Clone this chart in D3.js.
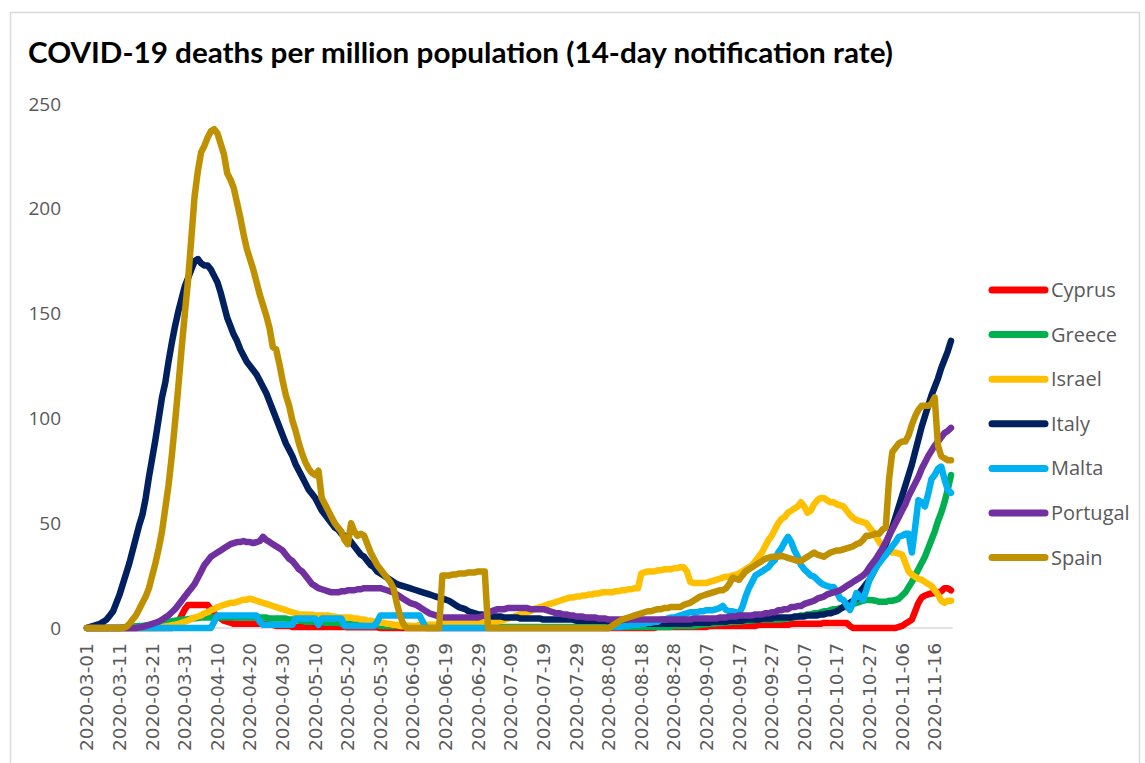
<!DOCTYPE html>
<html>
<head>
<meta charset="utf-8">
<script src="https://cdn.jsdelivr.net/npm/d3@7"></script>
<style>
    body { margin: 0; background: #fff; }
    svg { display: block; }
</style>
</head>
<body>
<svg id="chart" width="1145" height="763"></svg>
<script>
// COVID-19 deaths per million (14-day rate), daily from 2020-03-01 to 2020-11-21

const firstDay = "2020-03-01";
const lastDay = "2020-11-21";

const tickLabels = [
    "2020-03-01", "2020-03-11", "2020-03-21", "2020-03-31", "2020-04-10", "2020-04-20",
    "2020-04-30", "2020-05-10", "2020-05-20", "2020-05-30", "2020-06-09", "2020-06-19",
    "2020-06-29", "2020-07-09", "2020-07-19", "2020-07-29", "2020-08-08", "2020-08-18",
    "2020-08-28", "2020-09-07", "2020-09-17", "2020-09-27", "2020-10-07", "2020-10-17",
    "2020-10-27", "2020-11-06", "2020-11-16"
];
const yTicks = [0, 50, 100, 150, 200, 250];

const countries = ["Cyprus", "Greece", "Israel", "Italy", "Malta", "Portugal", "Spain"];
const colors = ["#ff0000", "#00b050", "#ffc000", "#002060", "#00b0f0", "#7030a0", "#bf9000"];

// one row = 10 days
const cyprus = [
    0,0,0,0,0,0,0,0,0,0,
    0,0,0,0,0,0,0,0,0,0,
    0,0,0,0,0,0,0,1,3,6,
    9,11,11,11,11,11,11,11,9,7,
    5.5,4.5,3.5,3,2.5,2,2,2,2,2,
    2,2,2,2,2,2,1.5,1.5,1,1,
    1,1,1,0.5,0.5,0.5,0.5,0.5,0.5,0.5,
    0.5,0.5,0.5,0.5,0.5,0.5,0.5,0.5,0.5,0.5,
    0.3,0.3,0.3,0.3,0.3,0.3,0.3,0.3,0.3,0.3,
    0,0,0,0,0,0,0,0,0,0,
    0,0,0,0,0,0,0,0,0,0,
    0,0,0,0,0,0,0,0,0,0,
    0,0,0,0,0,0,0,0,0,0,
    0,0,0,0,0,0,0,0,0,0,
    0,0,0,0,0,0,0,0,0,0,
    0,0,0,0,0,0,0,0,0,0,
    0,0,0,0,0,0,0,0,0,0,
    0,0,0,0,0,0.5,0.5,0.5,0.5,0.5,
    0.5,0.5,0.5,0.5,0.5,0.5,0.5,0.5,0.5,0.5,
    0.5,1,1,1,1,1,1,1,1,1,
    1,1,1,1,1,1,1.5,1.5,1.5,1.5,
    1.5,1.5,1.5,1.5,1.5,1.5,2,2,2,2,
    2,2,2,2,2,2,2.4,2.4,2.4,2.4,
    2.4,2.4,2.4,2.4,1,0,0,0,0,0,
    0,0,0,0,0,0,0,0,0,0.5,
    1,2,3,4,8,12,14.5,15.5,16,16.5,
    16.6,17,17.5,19,19,18
];

const greece = [
    0,0,0,0,0,0,0,0,0,0,
    0,0.2,0.3,0.5,0.6,0.8,1,1,1.2,1.2,
    1.5,1.8,2,2.3,2.6,3,3.2,3.5,3.8,4,
    4,4.2,4.4,4.6,4.8,5,5,5,5,5,
    5,5,5,5,5,5,5,5,5,5,
    5,5,5,5,5,5,4.5,4.5,4.5,4.5,
    4.5,4.5,4,4,4,3.5,3.5,3,3,3,
    3,3,3,2.5,2.5,2.5,2.5,2.5,2,2,
    2,2,2,2,1.5,1.5,1.5,1.5,1.5,1.5,
    1,1,1,1,1,1,1,1,1,1,
    0.5,0.5,0.5,0.5,0.5,0.5,0.5,0.5,0.5,0.5,
    0.5,0.5,0.5,0.5,0.5,0.5,0.5,0.5,0.5,0.5,
    0.5,0.5,0.5,0.5,0.5,0.5,0.5,0.5,0.5,0.5,
    0.5,0.5,0.5,0.5,0.5,0.5,0.5,0.5,0.5,0.5,
    0.5,0.5,0.5,0.5,0.5,0.5,0.5,0.5,0.5,0.5,
    0.5,0.5,0.5,0.5,0.5,0.5,0.5,0.5,0.5,0.5,
    0.5,0.5,0.5,0.5,0.5,0.5,0.5,0.5,0.5,0.5,
    0.5,0.5,0.5,0.5,0.5,0.5,0.5,0.5,0.5,0.5,
    1,1,1,1,1,1,1,1.2,1.4,1.6,
    1.8,2,2,2.2,2.4,2.5,2.6,2.8,3,3,
    3,3.2,3.4,3.5,3.6,3.8,4,4,4,4,
    4,4,4,4.2,4.4,4.6,4.8,5,5.5,6,
    6,6.5,6.5,7,7,7.5,8,8,8.5,9,
    9,9.5,10,10,11,11.5,12,12.5,13,13.4,
    13.4,13.2,13,12.5,12.5,12.5,13,13,13.4,14,
    15.5,17,19.5,22,25,28,31,34,38,42,
    46,51,55,60,66,73
];

const israel = [
    0,0,0,0,0,0,0,0,0,0,
    0,0,0,0,0,0,0,0,0,0,
    0,0,0.3,0.5,0.7,1,1.3,1.6,2,2.5,
    3,3.6,4.3,5,5.5,6,7,7.5,8.5,9,
    10,10.5,11,11.5,12,12,12.5,13,13.5,13.5,
    14,13.5,13,12.5,12,11.5,11,10.5,10,9.5,
    9,8.5,8,7.5,7,6.5,6.5,6.5,6.3,6.3,
    6,6,6,6,6,5.5,5.5,5,5,5,
    5,5,4.5,4.5,4,4,3.5,3.5,3,3,
    2.5,2.5,2,2,1.5,1.5,1,1,1,1,
    1,1,1.5,1.5,1.5,1.5,1.5,1.5,1.5,1.5,
    2,2,2,2,2,2,2,2,2,2,
    2.5,2.5,2.5,2.5,2.5,2.5,3,3.5,4,4.5,
    5,5.5,6,6.5,7,7.5,8,9,9.5,10,
    10.5,11,11.5,12,12.5,13,13.5,14,14.5,14.5,
    15,15,15.5,15.5,16,16,16.5,16.5,17,17,
    17,17,17.5,17.5,18,18,18.5,18.5,19,19,
    26,26.5,27,27,27,27.5,27.5,28,28,28,
    28.5,28.5,29,29,27,22,21.5,21.5,21.5,21.5,
    21.5,22,22.5,23,23.5,24,24.5,24.5,25,25.5,
    26,27,28,29,30,32,34,36,39,42,
    44,47,50,52,53,55,56,57,58,60,
    58,55,56,59,61,62,62,61,60,60,
    59,58.5,58,56,54,52.5,51.5,51,50.5,50,
    48,46,43.5,41,39,37,36.5,36,36,35.5,
    35,31,27,25.5,24.5,23.5,23,22,21,20,
    18,16,13,12,13,13
];

const italy = [
    0,0.5,1,1.5,2,3,4,6,8,12,
    16,21,26,31,37,43,49,54,62,72,
    81,90,100,110,117,127,136,144,151,157,
    163,167,171,175,176,174,173,173,171,168,
    165,160,154,148,144,140,137,133,130,127,
    125,123,121,118,115,112,108,104,100,96,
    92,88,85,82,78,75,72,69,66,64,
    62,59,56,54,52,50,48,47,45,44,
    43,41,39,37,35,34,32,30,29,27,
    26,25,24,23,22,21,20.5,20,19.5,19,
    18.5,18,17.5,17,16.5,16,15.5,15,14.5,14,
    13.5,13,12,11,10,9.5,9,8,7.5,7,
    6.5,6.5,6,6,5.5,5.5,5.5,5.5,5,5,
    5,5,5,4.5,4.5,4.5,4.5,4.5,4.5,4.5,
    4,4,4,4,4,4,4,4,4,4,
    3.5,3.5,3.5,3.5,3.5,3.5,3.5,3.5,3.5,3.5,
    3,3,3,3,3,2.5,2.5,2.5,2.5,2.5,
    2,2,2,2,2,2,2,2,2,2,
    2,2,2,2,2,2,2.5,2.5,2.5,2.5,
    2.5,2.5,3,3,3,3,3,3.5,3.5,3.5,
    3.5,3.5,4,4,4,4,4,4.5,4.5,4.5,
    4.5,5,5,5,5,5,5,5.5,5.5,5.5,
    5.5,6,6,6,6,6.5,6.5,7,7,7.5,
    8,9,10,11,12,13,14,17,19,21,
    23,26,29,32,36,40,44,48,53,58,
    63,68,73,78,84,90,96,101,106,111,
    115,119,124,128,132,137
];

const malta = [
    0,0,0,0,0,0,0,0,0,0,
    0,0,0,0,0,0,0,0,0,0,
    0,0,0,0,0,0,0,0,0,0,
    0,0,0,0,0,0,0,0,0,3,
    6,6,6,6,6,6,6,6,6,6,
    6,6,6,3,1.5,1.5,1.5,1.5,1.5,1.5,
    1.5,1.5,1.5,1.5,4.5,4.5,4.5,4.5,4.5,4.5,
    4.5,1.5,4.5,4.5,4.5,4.5,4.5,4.5,4.5,1,
    1,1,1,1,1,1,1,1,1,3,
    6,6,6,6,6,6,6,6,6,6,
    6,6,6,3,0,0,0,0,0,0,
    0,0,0,0,0,0,0,0,0,0,
    0,0,0,0,0,0,0,0,0,0,
    0,0,0,0,0,0,0,0,0,0,
    0,0,0,0,0,0,0,0,0,0,
    0,0,0,0,0,0,0,0,0,0,
    0,0.5,0.5,0.5,0.5,1,1,1.5,1.5,1.5,
    2,2,2.5,2.5,3,3,4,4,4.5,5,
    5,5.5,6,6.5,7,7.5,7.5,7.5,8,8,
    8.5,8.5,8.5,9,9.5,10.5,8.6,8,8,7.5,
    7,10,15,19,22,25,26,27,28,29,
    31,32.5,36,38,41,43.5,41,37,34,30,
    28,26.5,25,24.5,23,21.5,20.6,20,19.6,19.6,
    17,14,13.4,11,8.6,12,16.7,15,13.4,18,
    23,26,29,31,33,35,37,39,41,43.5,
    44,45,45,36,48,61,60,58,64,71,
    73,76,77,71,66,64.5
];

const portugal = [
    0,0,0,0,0,0,0,0,0,0,
    0,0,0,0,0,0,0.3,0.5,1,1.5,
    2,2.5,3,4,5,6,7.5,9,11,13,
    15,17,19,21,24,27,30,32,34,35,
    36,37,38,39,40,40.5,41,41,41.5,41,
    41,40.5,41,41.5,43.5,42,41,40,39,38,
    37,35,33,32,30,28,27,25,23,21,
    20,19,18.5,18,17.5,17,17,17,17.5,17.5,
    18,18,18,18.5,18.5,19,19,19,19,19,
    19,18.5,18,17.5,17,16,15,14,13,12,
    11.5,11,10,9,8,7,6.5,6,5.5,5,
    5,5,5,5,5,5,5,5,5,5,
    5,5.5,6,7,8,8.5,9,9,9,9.5,
    9.5,9.5,9.5,9.5,9.5,9.5,9,9,9,9,
    9,8.5,8,7.5,7,7,6.5,6.5,6,6,
    5.5,5.5,5.5,5,5,5,5,4.5,4.5,4.5,
    4,4,4,4,4,4,4,4,4,4,
    4,4,4,4,4,4,4,4,4,4,
    4,4,4,4,4,4,4.5,4.5,4.5,4.5,
    4.5,4.5,4.5,4.5,5,5,5,5.5,5.5,5.5,
    6,6,6,6,6,6.5,6.5,6.5,7,7,
    7.5,7.5,8.5,8.5,9,9,10,10,10.5,10.5,
    11.5,12,12.5,13,14,14.5,15,16,16.5,17,
    17.5,18,19,20,21,22,23,24,25,26.5,
    29,31,33,35.5,38,41,44,47,50,53,
    56,59,63,66,69,72,76,79,82,84.5,
    87,89,91,93,94,95.5
];

const spain = [
    0,0,0,0,0,0,0,0,0,0,
    0,0,0.5,2,4,6,9,12,15,19,
    25,31,38,46,57,68,82,98,115,133,
    150,166,186,206,218,227,230,234,237,238,
    236,231,226,217,214,210,203,196,188,181,
    176,171,165,159,154,149,143,134,133,126,
    118,111,106,99,94,88,83,79,76,74,
    73,75,62,59,56,53,50,48,46,42,
    40,50,46,44,45,44,40,36,33,30,
    28,26,24,22,19,12,6,2,0,0,
    0,0,0,0,0,0,0,0,0,25,
    25,25,25.5,25.5,26,26,26,26.5,26.5,26.5,
    27,27,27,0,0,0,0,0,0,0,
    0,0,0,0,0,0,0,0,0,0,
    0,0,0,0,0,0,0,0,0,0,
    0,0,0,0,0,0,0,0,0,0,
    0,1,2,3,4,4.5,5,5.5,6,6.5,
    7,7.5,8,8,8.5,9,9,9.5,9.5,10,
    10,10,10,11,11.5,12,13,14,15,15.5,
    16,16.5,17,17.5,18,18,19,21,24,23.5,
    23,25,27,28,29,30,31,32,33,33.5,
    34,34,34,34.5,34,33.5,33,32.5,32,32,
    33,34,35,36,35,34.5,34,35,36,36.5,
    37,37,37.5,38,38.5,39,40,40.5,42,44,
    44,44.5,45,45,47,48,71,84,86,88,
    89,89,92,97,101,104,106,106,106,107,
    110,87,82,81,80,80
];

const seriesValues = [cyprus, greece, israel, italy, malta, portugal, spain];

// ---- setup ----

const svg = d3.select("#chart");
const parseDay = d3.timeParse("%Y-%m-%d");
const fmtDay = d3.timeFormat("%Y-%m-%d");
const days = d3.timeDay.range(parseDay(firstDay), d3.timeDay.offset(parseDay(lastDay), 1)).map(fmtDay);

const x = d3.scalePoint().domain(days).range([87, 951]);
const y = d3.scaleLinear().domain([0, 250]).range([628, 104]);
const half = x.step() / 2;

// chart border
svg.append("rect")
    .attr("x", 10.5).attr("y", 12.5)
    .attr("width", 1129).attr("height", 770)
    .attr("fill", "none").attr("stroke", "#d9d9d9").attr("stroke-width", 1.5);

svg.append("text")
    .attr("x", 28).attr("y", 63)
    .attr("font-family", "Lato, 'Open Sans', sans-serif")
    .attr("font-weight", "bold").attr("font-size", 28)
    .attr("fill", "#000")
    .attr("textLength", 865).attr("lengthAdjust", "spacingAndGlyphs")
    .text("COVID-19 deaths per million population (14-day notification rate)");

// ---- axes ----

const yAxis = svg.append("g")
    .attr("transform", "translate(66,0)")
    .call(d3.axisLeft(y).tickValues(yTicks).tickSize(0).tickPadding(5));
yAxis.select(".domain").remove();
yAxis.selectAll("text")
    .attr("font-family", "'Open Sans', sans-serif")
    .attr("font-size", 19).attr("fill", "#595959");

svg.append("line")
    .attr("x1", x.range()[0] - half).attr("x2", x.range()[1] + half)
    .attr("y1", y(0)).attr("y2", y(0))
    .attr("stroke", "#d9d9d9").attr("stroke-width", 1.5);

const xAxis = svg.append("g")
    .attr("transform", `translate(0,${y(0)})`)
    .call(d3.axisBottom(x).tickValues(tickLabels).tickSize(0));
xAxis.select(".domain").remove();
xAxis.selectAll("text")
    .attr("transform", "rotate(-90)")
    .attr("text-anchor", "end")
    .attr("x", -15).attr("y", 0).attr("dy", "0.35em")
    .attr("font-family", "'DejaVu Sans', sans-serif")
    .attr("font-size", 17).attr("fill", "#595959")
    .attr("textLength", 108).attr("lengthAdjust", "spacingAndGlyphs");

// ---- lines ----

const line = d3.line()
    .x((d, i) => x(days[i]))
    .y(d => y(d));

svg.append("g").selectAll("path")
    .data(seriesValues)
    .join("path")
    .attr("d", line)
    .attr("fill", "none")
    .attr("stroke", (d, i) => colors[i])
    .attr("stroke-width", 6.5)
    .attr("stroke-linejoin", "round")
    .attr("stroke-linecap", "round");

// ---- legend ----

const legend = svg.append("g").selectAll("g")
    .data(countries)
    .join("g")
    .attr("transform", (d, i) => `translate(0,${290 + i * 44.6})`);

legend.append("line")
    .attr("x1", 992).attr("x2", 1045)
    .attr("stroke", (d, i) => colors[i])
    .attr("stroke-width", 7).attr("stroke-linecap", "round");

legend.append("text")
    .attr("x", 1051).attr("dy", "0.35em")
    .attr("font-family", "'Open Sans', sans-serif")
    .attr("font-size", 20).attr("fill", "#595959")
    .text(d => d);
</script>
</body>
</html>
